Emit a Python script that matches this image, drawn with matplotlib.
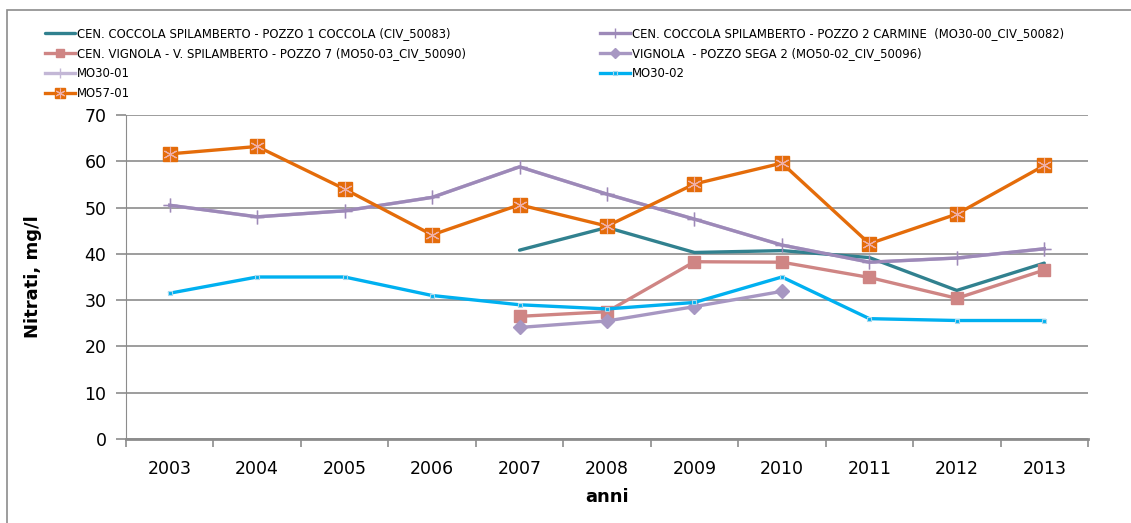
import numpy as np
import matplotlib.pyplot as plt
from matplotlib.patches import Rectangle
from matplotlib.legend_handler import HandlerTuple

plt.rcParams['font.family'] = ['DejaVu Sans']

anni = ['2003', '2004', '2005', '2006', '2007', '2008', '2009', '2010', '2011', '2012', '2013']
nan = np.nan

# Nitrati, mg/l
coccola_1 = [nan, nan, nan, nan, 40.8, 45.7, 40.3, 40.7, 39.2, 32.1, 38.0]
coccola_2 = [50.5, 48.0, 49.3, 52.2, 58.8, 52.9, 47.5, 41.9, 38.2, 39.1, 41.1]
vignola_7 = [nan, nan, nan, nan, 26.5, 27.5, 38.3, 38.2, 34.9, 30.4, 36.5]
sega_2 = [nan, nan, nan, nan, 24.1, 25.5, 28.6, 31.9, nan, nan, nan]
mo30_01 = [50.5, 48.0, 49.3, 52.2, 58.8, 52.9, 47.5, 41.9, 38.2, 39.1, 41.1]
mo30_02 = [31.5, 35.0, 35.0, 31.0, 29.0, 28.1, 29.5, 35.0, 26.0, 25.6, 25.6]
mo57_01 = [61.6, 63.2, 54.0, 44.1, 50.6, 46.0, 55.1, 59.6, 42.2, 48.6, 59.1]

labels = ['CEN. COCCOLA SPILAMBERTO - POZZO 1 COCCOLA (CIV_50083)',
          'CEN. COCCOLA SPILAMBERTO - POZZO 2 CARMINE  (MO30-00_CIV_50082)',
          'CEN. VIGNOLA - V. SPILAMBERTO - POZZO 7 (MO50-03_CIV_50090)',
          'VIGNOLA  - POZZO SEGA 2 (MO50-02_CIV_50096)',
          'MO30-01',
          'MO30-02',
          'MO57-01']

fig = plt.figure(figsize=(11.31, 5.23), dpi=100)
fig.patches.append(Rectangle((7 / 1131, -0.1), 1.2, 1 - 10 / 523 + 0.1,
                             transform=fig.transFigure, fill=False,
                             edgecolor='#8c8c8c', linewidth=1.2))
ax = fig.add_axes([126 / 1131, 84 / 523, 962 / 1131, 324 / 523])
x = np.arange(len(anni))
lw = 2.4

h1, = ax.plot(x, coccola_1, color='#31818f', lw=lw, solid_capstyle='round', zorder=3)
h5, = ax.plot(x, mo30_01, color='#c3b7d6', lw=lw, marker='+', ms=10, mew=1.0, zorder=2)
h2, = ax.plot(x, coccola_2, color='#9d89b8', lw=lw, marker='+', ms=10, mew=1.0, zorder=3)
h3, = ax.plot(x, vignola_7, color='#cf8584', lw=lw, marker='s', ms=9, zorder=4)
h4, = ax.plot(x, sega_2, color='#a797c2', lw=lw, marker='D', ms=7.5, zorder=4)
h6, = ax.plot(x, mo30_02, color='#00b0f0', lw=lw, marker='s', ms=3.5, mec='#a8d8ec',
              mew=0.8, zorder=5)
h7a, = ax.plot(x, mo57_01, color='#e46c0a', lw=lw, marker='s', ms=10, zorder=6)
h7b, = ax.plot(x, mo57_01, ls='none', marker=(6, 2, 0), ms=10, mec='#f0b0a8', mew=0.8,
               zorder=7)
h7 = (h7a, h7b)

ax.set_xlim(-0.5, len(anni) - 0.5)
ax.set_ylim(0, 70)
ax.set_yticks(np.arange(0, 71, 10))
ax.set_xticks(np.arange(-0.5, len(anni), 1.0))
ax.set_xticklabels([])
ax.set_xticks(x, minor=True)
ax.set_xticklabels(anni, minor=True)
ax.tick_params(axis='x', which='major', length=6, color='#8c8c8c', width=1.2)
ax.tick_params(axis='x', which='minor', length=0, pad=15, labelsize=12.5)
ax.tick_params(axis='y', length=7, color='#8c8c8c', width=1.2, labelsize=12.5, pad=7)
ax.grid(axis='y', color='#8c8c8c', lw=1.2)
ax.set_axisbelow(True)
for s in ['top', 'right']:
    ax.spines[s].set_visible(False)
ax.spines['left'].set_color('#8c8c8c')
ax.spines['bottom'].set_color('#8c8c8c')
ax.spines['bottom'].set_linewidth(2)

fig.text(33 / 1131, 1 - 277 / 523, 'Nitrati, mg/l', rotation=90, ha='center', va='center',
         fontsize=13, fontweight='bold')
fig.text(607 / 1131, 1 - 497 / 523, 'anni', ha='center', va='center',
         fontsize=13, fontweight='bold')

leg_kw = dict(frameon=False, fontsize=8.4, handlelength=2.6, handletextpad=0.2,
              labelspacing=0.6, borderaxespad=0, loc='upper left', markerscale=0.7,
              handler_map={tuple: HandlerTuple(ndivide=1)})
leg1 = fig.legend([h1, h3, h5, h7], [labels[0], labels[2], labels[4], labels[6]],
                  bbox_to_anchor=(40 / 1131, 1 - 22 / 523), **leg_kw)
leg2 = fig.legend([h2, h4, h6], [labels[1], labels[3], labels[5]],
                  bbox_to_anchor=(595 / 1131, 1 - 22 / 523), **leg_kw)

fig.savefig('out.png', dpi=100)
